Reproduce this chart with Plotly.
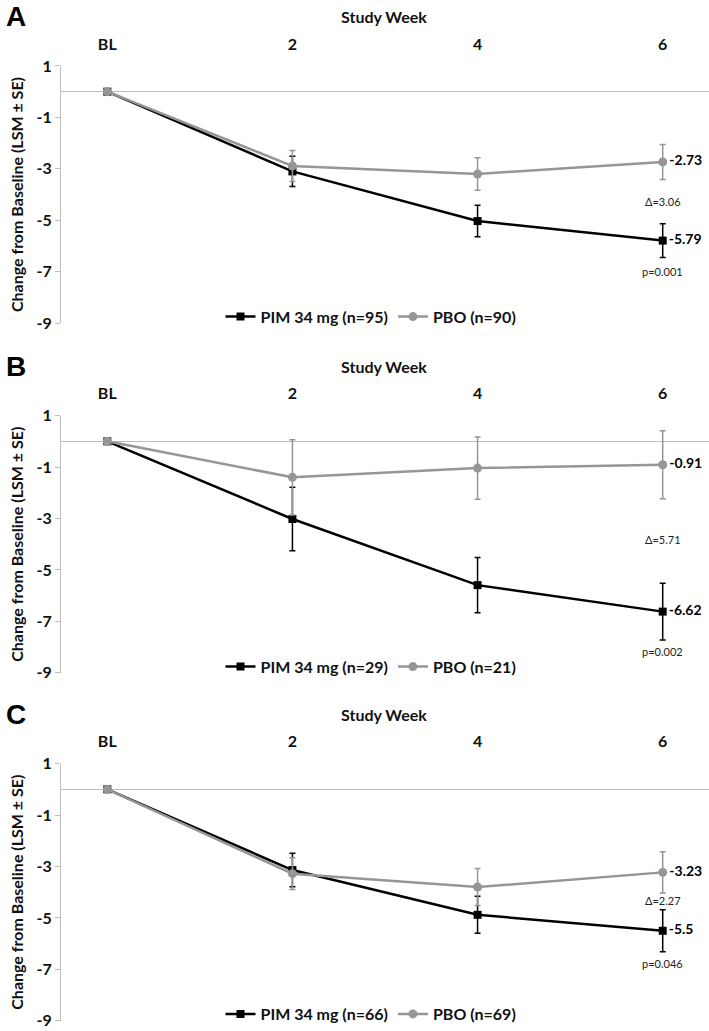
import plotly.graph_objects as go

weeks = ["BL", "2", "4", "6"]
y_ticks = [1, -1, -3, -5, -7, -9]

# Panel A
pim_a = [0, -3.10, -5.03, -5.79]
pim_a_se = [0, 0.59, 0.61, 0.66]
pbo_a = [0, -2.89, -3.20, -2.73]
pbo_a_se = [0, 0.60, 0.63, 0.68]

# Panel B
pim_b = [0, -3.02, -5.59, -6.62]
pim_b_se = [0, 1.23, 1.07, 1.10]
pbo_b = [0, -1.40, -1.04, -0.91]
pbo_b_se = [0, 1.46, 1.21, 1.32]

# Panel C
pim_c = [0, -3.14, -4.88, -5.50]
pim_c_se = [0, 0.65, 0.72, 0.82]
pbo_c = [0, -3.28, -3.80, -3.23]
pbo_c_se = [0, 0.62, 0.72, 0.80]

pim_n = [95, 29, 66]
pbo_n = [90, 21, 69]
deltas = ["3.06", "5.71", "2.27"]
pvals = ["0.001", "0.002", "0.046"]
delta_y = [-4.28, -3.82, -4.32]
p_y = [-6.98, -8.16, -6.77]

panels = [
    ("A", pim_a, pim_a_se, pbo_a, pbo_a_se),
    ("B", pim_b, pim_b_se, pbo_b, pbo_b_se),
    ("C", pim_c, pim_c_se, pbo_c, pbo_c_se),
]

W, H = 709, 1031
# pixel position of the "1" tick in each panel, panel height (1 .. -9)
top_px = [66, 416, 764.3]
span_px = 257.5
BLACK = "#000000"
GRAY = "#969696"
AXIS_GRAY = "#bfbfbf"
FONT = "Lato"


def py(px):
    return 1 - px / H


fig = go.Figure()
annotations = []

for i, (letter, pim, pim_se, pbo, pbo_se) in enumerate(panels):
    k = "" if i == 0 else str(i + 1)
    xa, ya = "x" + k, "y" + k
    leg = "legend" + k

    def last_label(vals):
        return [""] * (len(vals) - 1) + [f"{vals[-1]:g}"]

    fig.add_trace(go.Scatter(
        x=weeks, y=pim, xaxis=xa, yaxis=ya, legend=leg,
        name=f"PIM 34 mg (n={pim_n[i]})",
        mode="lines+markers+text", cliponaxis=False,
        line=dict(color=BLACK, width=2.5),
        marker=dict(symbol="square", size=8, color=BLACK),
        error_y=dict(type="data", array=pim_se, color=BLACK, thickness=1.5, width=3),
        text=last_label(pim), textposition="middle right",
        textfont=dict(family=FONT, size=14, color=BLACK, weight="bold"),
    ))
    fig.add_trace(go.Scatter(
        x=weeks, y=pbo, xaxis=xa, yaxis=ya, legend=leg,
        name=f"PBO (n={pbo_n[i]})",
        mode="lines+markers+text", cliponaxis=False,
        line=dict(color=GRAY, width=2.5),
        marker=dict(symbol="circle", size=9, color=GRAY),
        error_y=dict(type="data", array=pbo_se, color=GRAY, thickness=1.5, width=3),
        text=last_label(pbo), textposition="middle right",
        textfont=dict(family=FONT, size=14, color=BLACK, weight="bold"),
    ))

    top = py(top_px[i])
    bot = py(top_px[i] + span_px)
    fig.update_layout({
        "xaxis" + k: dict(
            domain=[61 / W, 1], anchor=ya, side="top", type="category",
            range=[-0.25, 3.25], showline=False, showgrid=False, ticks="",
            ticklabelstandoff=12, automargin=False,
            tickfont=dict(family=FONT, size=16, color="#111", weight="bold"),
        ),
        "yaxis" + k: dict(
            domain=[bot, top], anchor=xa, range=[-9, 1],
            tickvals=y_ticks, ticktext=[f"{v:g}" for v in y_ticks], automargin=False,
            showgrid=False, showline=True, linecolor=AXIS_GRAY, linewidth=1,
            ticks="outside", ticklen=5, tickcolor=AXIS_GRAY,
            zeroline=True, zerolinecolor=AXIS_GRAY, zerolinewidth=1.2,
            tickfont=dict(family=FONT, size=16, color="#111", weight="bold"),
            title=dict(text="Change from Baseline (LSM ± SE)", standoff=8,
                       font=dict(family=FONT, size=16, color="#111", weight="bold")),
        ),
        leg: dict(
            orientation="h", x=371 / W, xanchor="center",
            y=py(top_px[i] + 250.7), yanchor="middle",
            bgcolor="rgba(0,0,0,0)", itemwidth=30,
            font=dict(family=FONT, size=16, color="#111", weight="bold"),
        ),
    })

    last = len(weeks) - 1
    annotations += [
        dict(text=letter, x=4 / W, y=py(top_px[i] - 49), xref="paper", yref="paper",
             xanchor="left", yanchor="middle", showarrow=False,
             font=dict(family="Liberation Sans", size=28, color=BLACK, weight="bold")),
        dict(text="Study Week", x=384 / W, y=py(top_px[i] - 49), xref="paper", yref="paper",
             xanchor="center", yanchor="middle", showarrow=False,
             font=dict(family=FONT, size=16, color="#111", weight="bold")),
        dict(text=f"Δ={deltas[i]}", x=last, y=delta_y[i], xref=xa, yref=ya,
             showarrow=False, font=dict(family=FONT, size=11, color="#222")),
        dict(text=f"p={pvals[i]}", x=last, y=p_y[i], xref=xa, yref=ya,
             showarrow=False, font=dict(family=FONT, size=11, color="#222")),
    ]

fig.update_layout(
    width=W, height=H,
    margin=dict(l=0, r=0, t=0, b=0),
    plot_bgcolor="white", paper_bgcolor="white",
    annotations=annotations,
    showlegend=True,
)

# drop the page's default body margin so the figure sits at the window's corner
fig.write_html("out.html", config={"displayModeBar": False},
               post_script="document.body.style.margin='0';")
